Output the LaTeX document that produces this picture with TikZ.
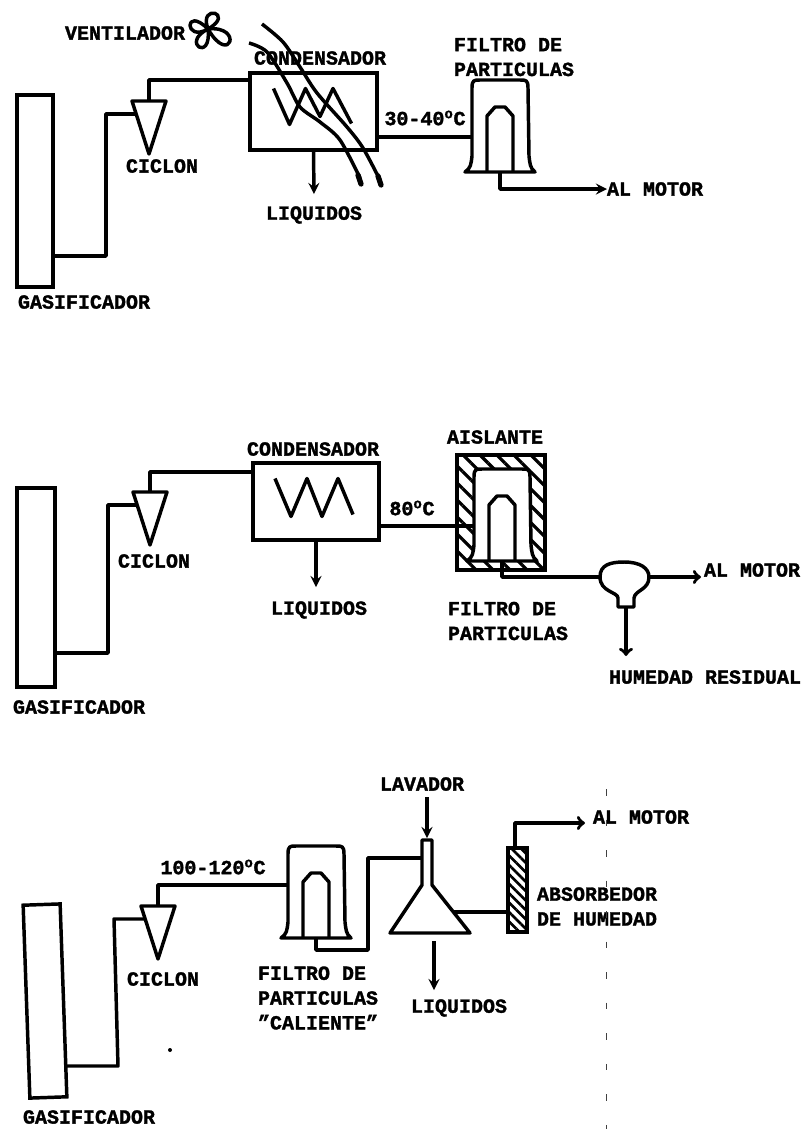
\documentclass[tikz,border=0pt]{standalone}
\usepackage{fontspec}
\setmainfont{Liberation Mono}[BoldFeatures={FakeBold=1.6}]
\usetikzlibrary{patterns.meta}
\def\px{0.75pt}
\tikzset{
  every node/.style={inner sep=0pt,outer sep=0pt},
  etiq/.style={font=\fontsize{15}{18.6}\selectfont\bfseries,align=left},
  caja/.style={draw,line width=2.6pt,minimum width=#1},
  tubo/.style={line width=2.6pt,line join=round},
  rayado/.style={pattern={Lines[angle=-45,distance=9pt,line width=2.4pt]}},
  rayadofino/.style={pattern={Lines[angle=-45,distance=5pt,line width=2pt]}},
  ciclon/.pic={
    \draw[tubo] (-17,0) -- (17,0) -- (0,53) -- cycle;
    \coordinate (-top) at (0,0);
    \coordinate (-in) at (-13,13);
  },
  filtro/.pic={
    \draw[tubo,fill=white] (-35,46) .. controls (-29,42) and (-29,38) .. (-28,30) -- (-28,-38)
      .. controls (-28,-46) and (-26,-46) .. (-20,-46) -- (20,-46)
      .. controls (26,-46) and (28,-46) .. (28,-38) -- (29,30)
      .. controls (30,38) and (30,42) .. (35,46) -- cycle;
    \draw[tubo] (-13,46) -- (-13,-10) -- (-5,-19) -- (5,-19) -- (13,-10) -- (13,46);
    \coordinate (-in) at (-28,11);
    \coordinate (-out) at (0,46);
  },
}
\begin{document}
\begin{tikzpicture}[x=\px,y=-\px,>=stealth]
\useasboundingbox (0,0) rectangle (803,1129);
% primer esquema
\node[etiq] (vent) at (125,33) {VENTILADOR};
\draw[tubo,shift={(208,29)}] (0,0) .. controls (-10,-26) and (28,-16) .. (0,0)
  .. controls (-24,-24) and (-24,14) .. (0,0)
  .. controls (-28,14) and (4,34) .. (0,0)
  .. controls (36,-4) and (22,38) .. (0,0);
\node[caja=36*\px,minimum height=192*\px] (gas1) at (35,191) {};
\node[etiq] (gas1t) at (84,302) {GASIFICADOR};
\pic (cic1) at (149,101) {ciclon};
\node[etiq] (cic1t) at (162,166) {CICLON};
\node[caja=127*\px,minimum height=77*\px] (con1) at (313.5,111.5) {};
\node[etiq] (con1t) at (320,58) {CONDENSADOR};
\draw[tubo] (gas1.east |- 0,256) -- (106,256) -- (106,114) -- (cic1-in);
\draw[tubo] (cic1-top) -- (149,80) -- (con1.west |- 0,80);
\draw[tubo,shift={(con1.center)}] (-40,-23) -- (-24,13) -- (-8,-23) -- (6.5,5) -- (19.5,-23) -- (38,12);
\draw[tubo] plot[smooth] coordinates {(262,24) (283,42) (300,67) (317,93) (347,127) (363,148) (380,180)};
\draw[tubo] plot[smooth] coordinates {(249,43) (267,52) (287,83) (300,107) (320,122) (340,140) (360,178)};
\draw[line width=4pt,line cap=round] (358,175) -- (361,184);
\draw[line width=4pt,line cap=round] (378,176) -- (381,185);
\node[etiq] (liq1) at (314,215) {LIQUIDOS};
\draw[tubo,->] (con1.south) -- (liq1.north |- 0,194);
\pic (fil1) at (500,126) {filtro};
\node[etiq] (fil1t) at (514,57) {FILTRO DE\\PARTICULAS};
\node[etiq] (tem1) at (425,118) {30-40\textsuperscript{o}C};
\draw[tubo] (con1.east |- 0,137) -- (fil1-in);
\node[etiq] (mot1) at (655,189) {AL MOTOR};
\draw[tubo,->] (fil1-out) -- (500,189) -- (mot1.west);
% segundo esquema
\node[caja=38*\px,minimum height=199*\px] (gas2) at (36,587.5) {};
\node[etiq] (gas2t) at (79,707) {GASIFICADOR};
\pic (cic2) at (150,492) {ciclon};
\node[etiq] (cic2t) at (154,561) {CICLON};
\node[caja=126*\px,minimum height=77*\px] (con2) at (316,501.5) {};
\node[etiq] (con2t) at (313,449) {CONDENSADOR};
\draw[tubo] (gas2.east |- 0,653) -- (108,653) -- (108,505) -- (cic2-in);
\draw[tubo] (cic2-top) -- (150,472) -- (con2.west |- 0,472);
\draw[tubo,shift={(con2.center)}] (-41,-23) -- (-25,15) -- (-9,-23) -- (6,15) -- (22,-23) -- (37,13);
\node[etiq] (liq2) at (319,610) {LIQUIDOS};
\draw[tubo,->] (con2.south) -- (316,587);
\node[caja=88*\px,minimum height=115*\px,rayado] (ais) at (501,512.5) {};
\node[etiq] (aist) at (495,437) {AISLANTE};
\pic (fil2) at (502,515) {filtro};
\node[etiq] (fil2t) at (508,621) {FILTRO DE\\PARTICULAS};
\node[etiq] (tem2) at (412,508) {80\textsuperscript{o}C};
\draw[tubo] (con2.east |- 0,526) -- (fil2-in);
\coordinate (sepw) at (600,577);
\coordinate (sepe) at (649,577);
\coordinate (seps) at (626,607);
\draw[tubo] (618,607) -- (618,598) .. controls (618,592) and (600,592) .. (sepw)
  .. controls (600,565) and (610,562) .. (624,562) .. controls (640,562) and (649,568) .. (sepe)
  .. controls (649,590) and (635,590) .. (634,598) -- (634,607) -- cycle;
\draw[tubo] (fil2-out) -- (502,577) -- (sepw);
\node[etiq] (mot2) at (752,570) {AL MOTOR};
\draw[tubo,-to] (sepe) -- (701,577);
\node[etiq] (hum) at (705,677) {HUMEDAD RESIDUAL};
\draw[tubo,-to] (seps) -- (626,656);
% tercer esquema
\node[caja=37*\px,minimum height=193*\px,rotate=2] (gas3) at (45,1001) {};
\node[etiq] (gas3t) at (89,1117) {GASIFICADOR};
\pic (cic3) at (158,906) {ciclon};
\node[etiq] (cic3t) at (163,979) {CICLON};
\pic (fil3) at (316,892) {filtro};
\node[etiq] (fil3t) at (318,998) {FILTRO DE\\PARTICULAS\\{\char34}CALIENTE{\char34}};
\node[etiq] (tem3) at (213,867) {100-120\textsuperscript{o}C};
\draw[tubo] (65,1066) -- (118,1066) -- (114,919) -- (cic3-in);
\draw[tubo] (cic3-top) -- (158,885) -- (fil3-in |- 0,885);
\coordinate (lavin) at (422,858);
\coordinate (lavtop) at (427,838);
\coordinate (lavbot) at (434,933);
\coordinate (lavder) at (453,912);
\draw[tubo] (422,840) -- (432,840) -- (432,885) -- (470,933) -- (390,933) -- (422,885) -- cycle;
\draw[tubo] (fil3-out) -- (316,950) -- (368,950) -- (368,858) -- (lavin);
\node[etiq] (lav) at (422,784) {LAVADOR};
\draw[tubo,->] (427,797) -- (lavtop);
\node[etiq] (liq3) at (459,1008) {LIQUIDOS};
\draw[tubo,->] (lavbot |- 0,941) -- (434,990);
\node[caja=19*\px,minimum height=84*\px,rayadofino] (abs) at (517.5,890) {};
\node[etiq] (abst) at (597,906.5) {ABSORBEDOR\\DE HUMEDAD};
\draw[tubo] (lavder) -- (abs.west |- 0,912);
\node[etiq] (mot3) at (641,817) {AL MOTOR};
\draw[tubo,-to] (abs.north -| 515,0) -- (515,823) -- (585,823);
\coordinate (punto) at (170,1050);
\fill (punto) circle[radius=2];
\draw[line width=0.9pt,dash pattern=on 5pt off 17.9pt,black!75] (606.5,789) -- (606.5,1129);
\end{tikzpicture}
\end{document}
